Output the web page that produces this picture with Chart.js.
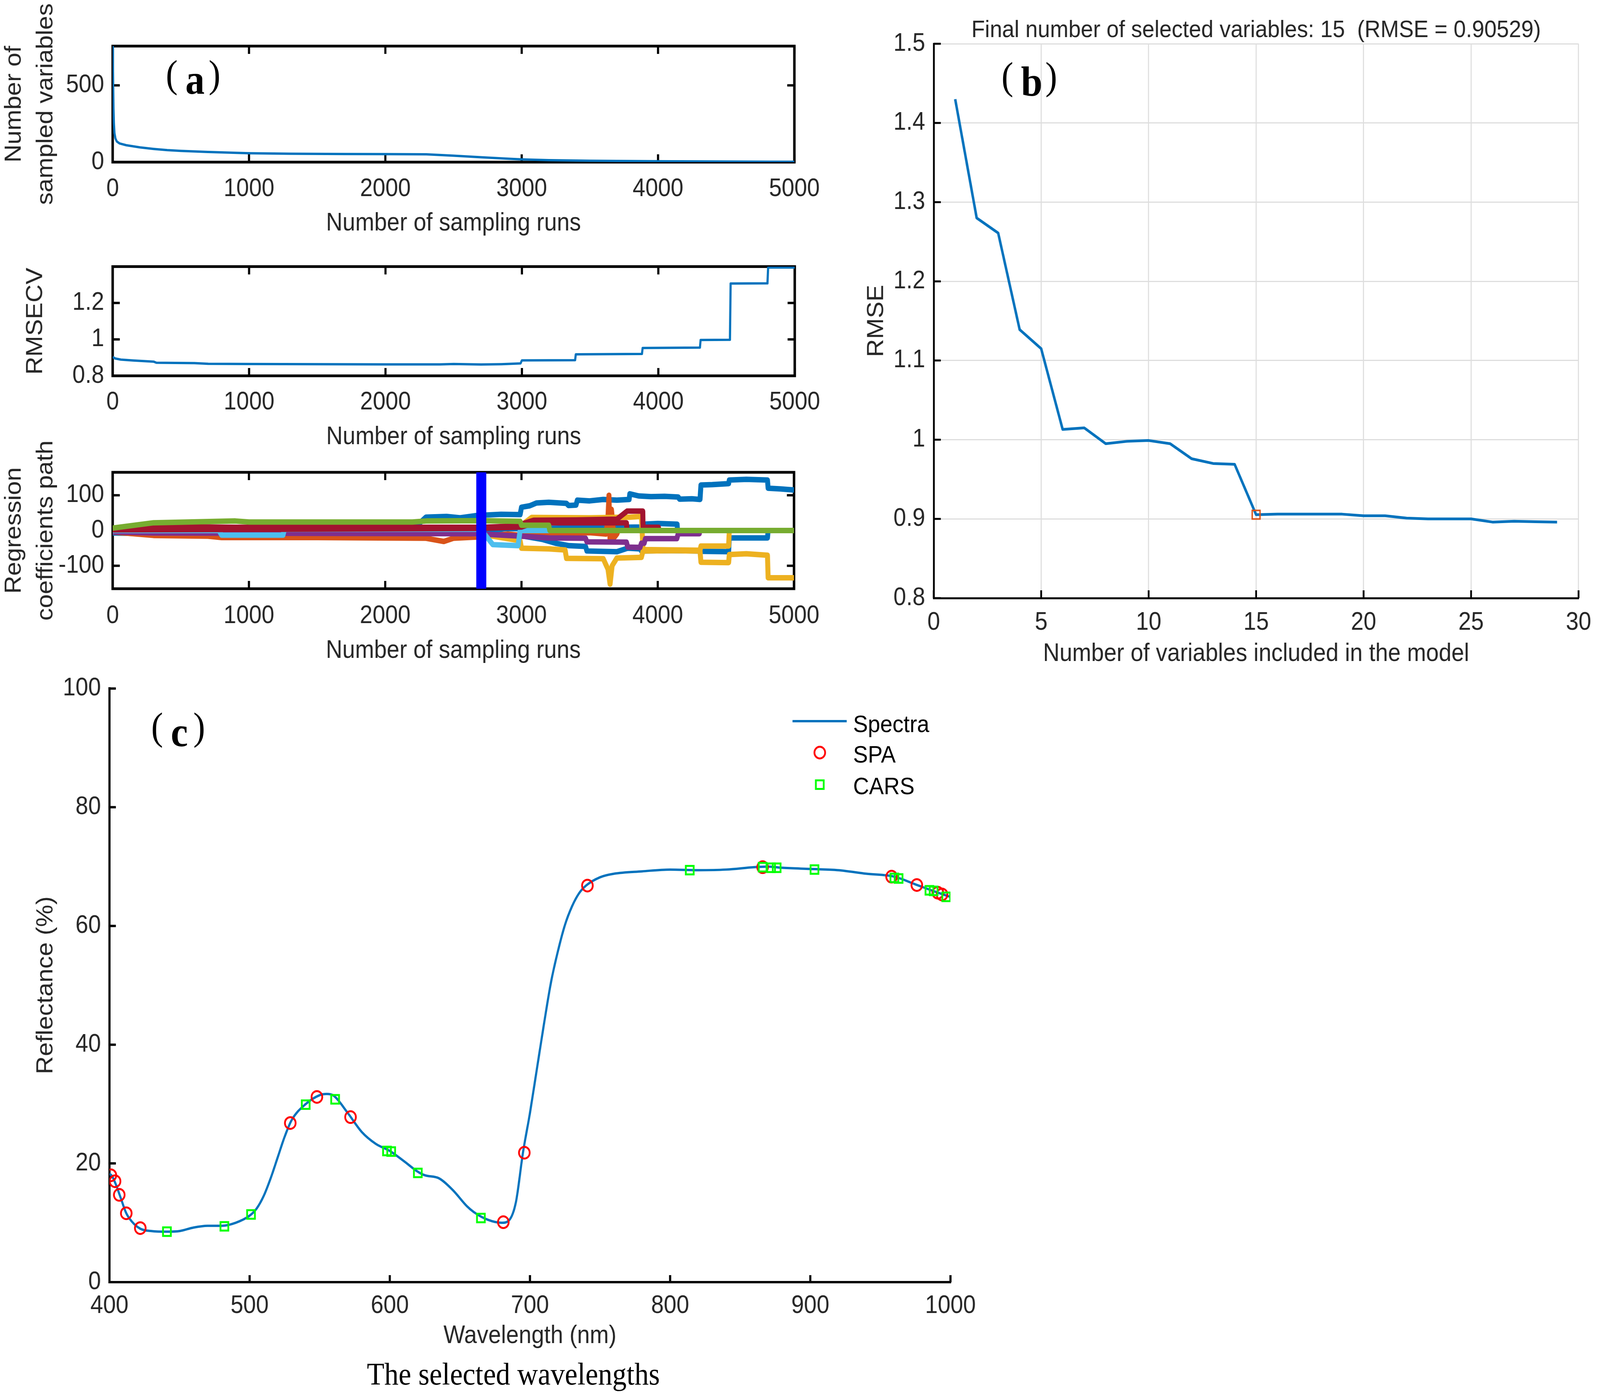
<!DOCTYPE html>
<html><head><meta charset="utf-8">
<script src="https://cdn.jsdelivr.net/npm/chart.js@4.4.1/dist/chart.umd.min.js"></script>
<style>
html,body{margin:0;padding:0;background:#fff;overflow:hidden;}
#page{position:relative;width:4488px;height:3576px;overflow:hidden;background:#fff;transform-origin:0 0;}
canvas{position:absolute;}
.plab{position:absolute;width:200px;height:130px;color:#000;}
.plab span{position:absolute;line-height:1;white-space:nowrap;font-family:'Liberation Serif','Times New Roman',serif;}
.plab .pp{font-size:100px;top:0;}
.plab .pa{font-size:108px;font-weight:bold;top:9.5px;}
.leg{position:absolute;font-family:'Liberation Sans',Arial,sans-serif;font-size:62px;color:#000;line-height:1;white-space:nowrap;}
.cap{position:absolute;font-family:'Liberation Serif','Times New Roman',serif;font-size:80px;color:#000;line-height:1;text-align:center;white-space:nowrap;}
</style></head>
<body><div id="page">
<canvas id="ca1" width="2330" height="620" style="left:0;top:0"></canvas>
<canvas id="ca2" width="2330" height="560" style="left:0;top:620px"></canvas>
<canvas id="ca3" width="2330" height="620" style="left:0;top:1100px"></canvas>
<canvas id="cb" width="2108" height="1760" style="left:2380px;top:0"></canvas>
<canvas id="cc" width="2880" height="1876" style="left:0;top:1700px"></canvas>

<div class="plab" style="left:465px;top:140px"><span class="pp" style="left:0">(</span><span class="pa" style="left:55px">a</span><span class="pp" style="left:120px">)</span></div>
<div class="plab" style="left:2809px;top:145px"><span class="pp" style="left:0">(</span><span class="pa" style="left:55px">b</span><span class="pp" style="left:123px">)</span></div>
<div class="plab" style="left:424px;top:1810px"><span class="pp" style="left:0">(</span><span class="pa" style="left:55px">c</span><span class="pp" style="left:118px">)</span></div>

<div style="position:absolute;left:2223px;top:1843px;width:152px;height:6px;background:#0072BD"></div>
<div style="position:absolute;left:2282px;top:1909px;width:25px;height:25px;border:5px solid #FF0000;border-radius:50%"></div>
<div style="position:absolute;left:2286px;top:1995px;width:17px;height:17px;border:5px solid #00FF00"></div>
<div class="leg" style="left:2393px;top:1822px">Spectra</div>
<div class="leg" style="left:2393px;top:1900px">SPA</div>
<div class="leg" style="left:2393px;top:1981px">CARS</div>

<div class="cap" style="left:940px;top:3477px;width:1000px">The selected wavelengths</div>
</div>
<script>
// fit the 4488x3576 design into whatever viewport the browser actually provides
(function () {
  const sx = window.innerWidth / 4488, sy = window.innerHeight / 3576;
  if (Math.abs(sx - 1) > 0.001 || Math.abs(sy - 1) > 0.001) {
    document.getElementById('page').style.transform = 'scale(' + sx + ',' + sy + ')';
  }
})();

// ---------------- DATA ----------------
const runTicks = [0, 1000, 2000, 3000, 4000, 5000];
const runTickLabels = ['0', '1000', '2000', '3000', '4000', '5000'];

// (a1) number of sampled variables [run, count]
const sampledVars = [[0,756],[2,650],[4,480],[6,350],[9,250],[13,190],[20,155],[30,135],[50,122],[100,110],[200,96],[300,86],[400,78],[500,73],[700,66],[1000,58],[1300,55],[1700,53],[2000,52],[2300,51],[2500,42],[2700,32],[2900,22],[3000,18],[3200,13],[3500,9],[3800,7],[4000,6],[4500,4],[5000,2]];
const a1YTicks = [0, 500];
const a1YLabels = ['0', '500'];

// (a2) RMSECV [run, value]
const rmsecv = [[0,0.903],[20,0.895],[60,0.889],[150,0.884],[300,0.878],[320,0.872],[600,0.870],[700,0.866],[1000,0.865],[1500,0.864],[2000,0.863],[2400,0.863],[2500,0.865],[2700,0.862],[2850,0.864],[2990,0.868],[3000,0.885],[3390,0.886],[3395,0.918],[3880,0.920],[3885,0.953],[4305,0.955],[4310,0.997],[4525,0.998],[4530,1.307],[4800,1.308],[4805,1.395],[5000,1.395]];
const a2YTicks = [0.8, 1, 1.2];
const a2YLabels = ['0.8', '1', '1.2'];

// (a3) regression coefficient paths [run, coef]
const coefBlueA = [[0,-2],[100,2],[300,4],[600,5],[900,6],[1200,4],[1500,6],[1800,5],[2100,8],[2250,20],[2300,38],[2450,40],[2550,36],[2660,42],[2750,44],[2850,46],[2990,45],[3000,66],[3060,70],[3110,78],[3200,80],[3330,77],[3345,71],[3400,72],[3410,86],[3500,84],[3600,88],[3700,86],[3790,88],[3795,104],[3860,98],[3950,96],[4050,97],[4150,95],[4160,89],[4250,90],[4310,88],[4317,129],[4400,130],[4520,133],[4525,143],[4650,145],[4805,143],[4810,120],[4900,118],[5000,115]];
const coefBlueB = [[0,-7],[300,-9],[800,-9],[850,-5],[2700,-5],[2800,-8],[3000,-15],[3150,-25],[3250,-36],[3350,-43],[3470,-45],[3480,-58],[3700,-60],[3780,-50],[3870,-52],[3880,-58],[4100,-57],[4310,-58],[4320,-59],[4520,-60],[4525,-21],[4805,-21],[4810,0],[5000,0]];
const coefBlueC = [[0,3],[1000,2],[2000,4],[2700,6],[3000,5],[3500,8],[3885,10],[3892,18],[4000,20],[4142,18],[4145,0],[5000,0]];
const coefOrange = [[0,-4],[300,-14],[700,-16],[800,-20],[1500,-20],[2300,-22],[2430,-31],[2500,-22],[2700,-18],[2900,-10],[3000,-14],[3075,-12],[3300,-8],[3500,-6],[3620,-10],[3635,40],[3642,100],[3650,-29],[3660,60],[3680,-20],[3700,-10],[3710,0],[5000,0]];
const coefYellowA = [[0,-2],[1000,-3],[2000,-4],[2400,-5],[2700,-10],[2850,-20],[2990,-29],[3000,-50],[3200,-52],[3320,-55],[3330,-79],[3600,-80],[3635,-110],[3650,-152],[3665,-100],[3700,-78],[3880,-76],[3892,-58],[4100,-57],[4310,-58],[4317,-90],[4520,-91],[4525,-68],[4650,-66],[4805,-70],[4810,-134],[5000,-134]];
const coefYellowB = [[0,2],[1500,3],[2700,6],[3000,15],[3075,37],[3500,36],[3800,38],[3880,40],[3892,-54],[4310,-56],[4317,-44],[4520,-44],[4525,0],[5000,0]];
const coefPurple = [[0,-4],[300,-7],[2700,-9],[2800,-12],[3000,-16],[3200,-21],[3470,-22],[3480,-32],[3770,-33],[3780,-47],[3870,-48],[3880,-36],[3900,-36],[3910,-23],[4140,-23],[4150,-9],[4305,-9],[4310,0],[5000,0]];
const coefLightBlue = [[0,0],[780,0],[800,-13],[1250,-13],[1260,3],[2700,4],[2790,-40],[2975,-43],[2990,0],[5000,0]];
const coefRedA = [[0,4],[300,11],[900,9],[2700,9],[2900,12],[3000,18],[3090,29],[3400,30],[3700,32],[3775,55],[3890,55],[3892,9],[4005,9],[4010,0],[5000,0]];
const coefRedB = [[0,2],[1500,4],[2700,6],[3000,10],[3090,22],[3770,22],[3775,0],[5000,0]];
const coefGreen = [[0,7],[300,22],[900,27],[1000,24],[2200,24],[2300,27],[2700,28],[2990,26],[3000,15],[3200,15],[3208,0],[5000,0]];
const selectedRun = 2705;
const a3YTicks = [-100, 0, 100];
const a3YLabels = ['-100', '0', '100'];

// (b) RMSE vs number of variables
const bVars = [1,2,3,4,5,6,7,8,9,10,11,12,13,14,15,16,17,18,19,20,21,22,23,24,25,26,27,28,29];
const bRmse = [1.430,1.280,1.261,1.139,1.115,1.013,1.015,0.995,0.998,0.999,0.995,0.976,0.970,0.969,0.90529,0.906,0.906,0.906,0.906,0.904,0.904,0.901,0.900,0.900,0.900,0.896,0.897,0.8965,0.896];
const bBestVars = 15;
const bBestRmse = 0.90529;
const bXTicks = [0,5,10,15,20,25,30];
const bXLabels = ['0','5','10','15','20','25','30'];
const bYTicks = [0.8,0.9,1.0,1.1,1.2,1.3,1.4,1.5];
const bYLabels = ['0.8','0.9','1','1.1','1.2','1.3','1.4','1.5'];

// (c) spectra and selected wavelengths
const specWl  = [400,402,405,408,412,416,422,430,441,450,460,470,480,490,500,505,510,515,520,525,530,540,550,555,560,570,580,590,600,610,620,625,635,645,655,660,670,680,685,690,695,700,705,710,715,720,725,730,735,740,750,760,780,800,820,840,860,870,880,900,920,940,960,975,990,1000];
const specRef = [18.3,17.8,16.2,14.2,11.6,10.2,9.0,8.6,8.5,8.6,9.2,9.5,9.5,10.0,11.2,12.4,14.5,17.5,21.0,24.5,27.3,30.0,31.5,31.7,31.4,28.5,25.3,23.3,22.1,20.4,18.6,18.0,17.5,15.5,12.8,11.8,10.5,10.0,10.4,13.5,21.8,28.5,36.0,43.5,50.5,55.8,60.2,63.3,65.5,66.8,68.2,68.8,69.2,69.5,69.4,69.5,69.9,70.0,69.8,69.6,69.4,68.8,68.3,67.0,65.7,64.9];
const spaWl  = [401,404,407,412,422,529,548,572,681,696,741,866,958,976,991,994];
const spaRef = [18.0,17.0,14.7,11.6,9.1,26.8,31.2,27.8,10.1,21.8,66.8,69.9,68.3,66.9,65.6,65.3];
const carsWl  = [441,482,501,540,561,598,601,620,665,814,866,872,876,903,960,963,985,988,997];
const carsRef = [8.5,9.4,11.4,29.9,30.8,22.1,22.0,18.4,10.8,69.4,69.9,69.8,69.8,69.5,68.1,68.0,66.0,65.9,64.9];
const cXTicks = [400,500,600,700,800,900,1000];
const cXLabels = ['400','500','600','700','800','900','1000'];
const cYTicks = [0,20,40,60,80,100];
const cYLabels = ['0','20','40','60','80','100'];

// ---------------- HELPERS ----------------
const FONT = "'Liberation Sans', Arial, Helvetica, sans-serif";
const TXT = '#262626';
const MBLUE = '#0072BD';

const innerTicks = {
  id: 'innerTicks',
  beforeDatasetsDraw(chart, args, o) {
    const {ctx, chartArea: a} = chart;
    const xs = chart.scales.x, ys = chart.scales.y;
    ctx.save();
    ctx.strokeStyle = '#000';
    ctx.lineWidth = o.width;
    ctx.lineCap = 'butt';
    ctx.beginPath();
    xs.ticks.forEach(t => {
      const px = xs.getPixelForValue(t.value);
      ctx.moveTo(px, a.bottom); ctx.lineTo(px, a.bottom - o.len);
      if (o.box) { ctx.moveTo(px, a.top); ctx.lineTo(px, a.top + o.len); }
    });
    ys.ticks.forEach(t => {
      const py = ys.getPixelForValue(t.value);
      ctx.moveTo(a.left, py); ctx.lineTo(a.left + o.len, py);
      if (o.box) { ctx.moveTo(a.right, py); ctx.lineTo(a.right - o.len, py); }
    });
    ctx.stroke();
    if (o.box) {
      ctx.lineWidth = o.boxWidth;
      ctx.strokeRect(a.left, a.top, a.right - a.left, a.bottom - a.top);
    }
    ctx.restore();
  }
};

function linScale(o) {
  return {
    type: 'linear',
    min: o.min, max: o.max,
    afterBuildTicks: s => { s.ticks = o.ticks.map(v => ({value: v})); },
    afterFit: s => { if (s.isHorizontal()) s.height = o.size; else s.width = o.size; },
    grid: { display: !!o.grid, color: '#DEDEDE', lineWidth: 3, drawTicks: false },
    border: { display: !!o.border, color: '#000', width: o.borderWidth || 5 },
    ticks: { color: TXT, font: {family: FONT, size: 64}, padding: o.pad, autoSkip: false,
             maxRotation: 0, minRotation: 0, callback: (v, i) => o.labels[i] },
    title: { display: true, text: o.title, color: TXT,
             font: {family: FONT, size: 64, lineHeight: o.lh || 1.2}, padding: o.tpad }
  };
}

function baseOptions(padding, scales, ticksOpt, extraPlugins) {
  return {
    responsive: false, animation: false, devicePixelRatio: 1, events: [],
    layout: { padding },
    scales,
    elements: { point: { radius: 0 }, line: { tension: 0 } },
    plugins: Object.assign({ legend: { display: false }, tooltip: { enabled: false },
                             title: { display: false }, innerTicks: ticksOpt }, extraPlugins || {})
  };
}

function lineDS(data, color, width) {
  return { data, borderColor: color, backgroundColor: color, borderWidth: width,
           pointRadius: 0, fill: false, borderCapStyle: 'butt', borderJoinStyle: 'round' };
}

const aTicks = { len: 20, width: 6, box: true, boxWidth: 7 };

// (a1)
new Chart(document.getElementById('ca1'), {
  type: 'line',
  data: { datasets: [ lineDS(sampledVars, MBLUE, 6) ] },
  options: baseOptions({left: 0, top: 118, right: 100, bottom: 0}, {
    x: linScale({min: 0, max: 5000, ticks: runTicks, labels: runTickLabels, size: 205, pad: 30.6,
                 title: 'Number of sampling runs', tpad: {top: 0, bottom: 9.6}}),
    y: linScale({min: 0, max: 756, ticks: a1YTicks, labels: a1YLabels, size: 316, pad: 24,
                 title: ['Number of', 'sampled variables'], lh: 1.4, tpad: {top: -4.8, bottom: 0}})
  }, aTicks),
  plugins: [innerTicks]
});

// (a2)
new Chart(document.getElementById('ca2'), {
  type: 'line',
  data: { datasets: [ lineDS(rmsecv, MBLUE, 6) ] },
  options: baseOptions({left: 0, top: 44, right: 100, bottom: 0}, {
    x: linScale({min: 0, max: 5000, ticks: runTicks, labels: runTickLabels, size: 218, pad: 29.6,
                 title: 'Number of sampling runs', tpad: {top: 0, bottom: 22.6}}),
    y: linScale({min: 0.8, max: 1.4, ticks: a2YTicks, labels: a2YLabels, size: 316, pad: 24,
                 title: 'RMSECV', tpad: {top: 61.6, bottom: 0}})
  }, aTicks),
  plugins: [innerTicks]
});

// (a3)  first dataset is drawn on top
const a3Sets = [
  lineDS([[selectedRun, -165], [selectedRun, 165]], '#0000FF', 28),
  lineDS(coefGreen, '#77AC30', 14),
  lineDS(coefRedB, '#A2142F', 14),
  lineDS(coefRedA, '#A2142F', 14),
  lineDS(coefLightBlue, '#4DBEEE', 14),
  lineDS(coefPurple, '#7E2F8E', 14),
  lineDS(coefYellowB, '#EDB120', 14),
  lineDS(coefYellowA, '#EDB120', 14),
  lineDS(coefOrange, '#D95319', 14),
  lineDS(coefBlueC, MBLUE, 14),
  lineDS(coefBlueB, MBLUE, 14),
  lineDS(coefBlueA, MBLUE, 14)
];
new Chart(document.getElementById('ca3'), {
  type: 'line',
  data: { datasets: a3Sets },
  options: baseOptions({left: 0, top: 109, right: 100, bottom: 0}, {
    x: linScale({min: 0, max: 5000, ticks: runTicks, labels: runTickLabels, size: 213, pad: 31.6,
                 title: 'Number of sampling runs', tpad: {top: 0, bottom: 15.6}}),
    y: linScale({min: -165, max: 165, ticks: a3YTicks, labels: a3YLabels, size: 316, pad: 24,
                 title: ['Regression', 'coefficients path'], lh: 1.4, tpad: {top: -4.8, bottom: 0}})
  }, aTicks),
  plugins: [innerTicks]
});

// (b)
new Chart(document.getElementById('cb'), {
  type: 'line',
  data: { datasets: [
    { data: [{x: bBestVars, y: bBestRmse}], showLine: false, pointStyle: 'rect', pointRadius: 15.5,
      pointBorderColor: '#D95319', pointBackgroundColor: 'rgba(0,0,0,0)', pointBorderWidth: 4,
      borderColor: '#D95319', backgroundColor: 'rgba(0,0,0,0)' },
    lineDS(bVars.map((v, i) => ({x: v, y: bRmse[i]})), MBLUE, 7)
  ] },
  options: baseOptions({left: 0, top: 0, right: 42, bottom: 0}, {
    x: linScale({min: 0, max: 30, ticks: bXTicks, labels: bXLabels, size: 229, pad: 24.6, grid: true,
                 border: true, borderWidth: 5,
                 title: 'Number of variables included in the model', tpad: {top: 0, bottom: 47.6}}),
    y: linScale({min: 0.8, max: 1.5, ticks: bYTicks, labels: bYLabels, size: 239, pad: 24, grid: true,
                 border: true, borderWidth: 5,
                 title: 'RMSE', tpad: {top: 40.6, bottom: 0}})
  }, { len: 20, width: 5, box: false }, {
    title: { display: true, fullSize: false, text: 'Final number of selected variables: 15  (RMSE = 0.90529)',
             color: TXT, font: {family: FONT, size: 62, weight: 'normal', lineHeight: 1},
             padding: {top: 47, bottom: 3} }
  }),
  plugins: [innerTicks]
});

// (c)
new Chart(document.getElementById('cc'), {
  type: 'line',
  data: { datasets: [
    { label: 'CARS', data: carsWl.map((w, i) => ({x: w, y: carsRef[i]})), showLine: false,
      pointStyle: 'rect', pointRadius: 15.5, pointBorderWidth: 5, pointBorderColor: '#00FF00',
      pointBackgroundColor: 'rgba(0,0,0,0)', borderColor: '#00FF00', backgroundColor: 'rgba(0,0,0,0)' },
    { label: 'SPA', data: spaWl.map((w, i) => ({x: w, y: spaRef[i]})), showLine: false,
      pointStyle: 'circle', pointRadius: 15, pointBorderWidth: 5, pointBorderColor: '#FF0000',
      pointBackgroundColor: 'rgba(0,0,0,0)', borderColor: '#FF0000', backgroundColor: 'rgba(0,0,0,0)' },
    Object.assign(lineDS(specWl.map((w, i) => ({x: w, y: specRef[i]})), MBLUE, 6),
                  { label: 'Spectra', cubicInterpolationMode: 'monotone' })
  ] },
  options: baseOptions({left: 0, top: 57, right: 214, bottom: 0}, {
    x: linScale({min: 400, max: 1000, ticks: cXTicks, labels: cXLabels, size: 294, pad: 22.6,
                 border: true, borderWidth: 6,
                 title: 'Wavelength (nm)', tpad: {top: 0, bottom: 117.6}}),
    y: linScale({min: 0, max: 100, ticks: cYTicks, labels: cYLabels, size: 307, pad: 24,
                 border: true, borderWidth: 6,
                 title: 'Reflectance (%)', tpad: {top: 90.6, bottom: 0}})
  }, { len: 18, width: 6, box: false }),
  plugins: [innerTicks]
});
</script>
</body></html>
